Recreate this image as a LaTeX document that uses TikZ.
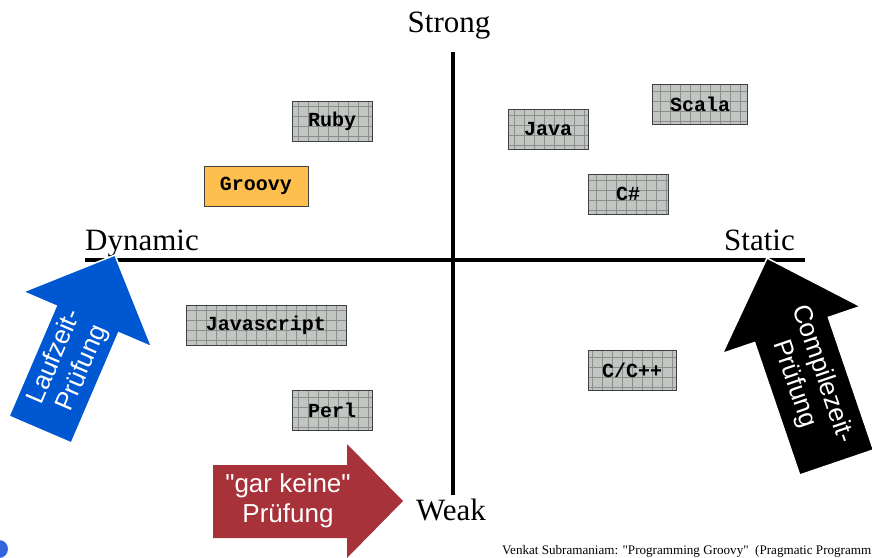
\documentclass[tikz,border=0pt]{standalone}
\usepackage{fontspec}
\setmainfont{Liberation Serif}
\newfontfamily\sansfam{Liberation Sans}
\newfontfamily\monofam{Liberation Mono}
\usetikzlibrary{positioning}
\definecolor{sky}{HTML}{0057D2}
\definecolor{rust}{HTML}{A8323A}
\definecolor{amber}{HTML}{FFBF4F}
\definecolor{tile}{HTML}{C2C6C2}
\definecolor{tileline}{HTML}{8C8E8C}
\definecolor{dot}{HTML}{3366DD}
\tikzset{
  every node/.style={inner sep=0pt},
  axis/.style={line width=4pt,black},
  axlabel/.style={font=\fontsize{31}{34}\selectfont},
  lang/.style={draw=black!75,line width=0.8pt,fill=tile,minimum height=40pt,
    font=\monofam\bfseries\fontsize{20}{22}\selectfont,
    path picture={\draw[tileline,line width=0.6pt]
      ([shift={(-10pt,-10pt)}]path picture bounding box.south west) grid[step=10pt]
      (path picture bounding box.north east);}},
  hint/.style={text=white,align=center,font=\sansfam\fontsize{26}{30}\selectfont},
  pfeil/.style={draw=white,line width=1.5pt},
}
\begin{document}
\begin{tikzpicture}[x=1pt,y=-1pt]
  \useasboundingbox (0,0) rectangle (872,557);
  \clip (0,0) rectangle (872,557);
  % axes
  \coordinate (top) at (453,52);
  \coordinate (bottom) at (453,495);
  \coordinate (left) at (85,260);
  \coordinate (right) at (805,260);
  \draw[axis] (top) -- (bottom);
  \draw[axis] (left) -- (right);
  \node[axlabel,anchor=base] (strong) at (449,32) {Strong};
  \node[axlabel,anchor=base west] (dynamic) at (85,250) {Dynamic};
  \node[axlabel,anchor=base east] (static) at (795,250) {Static};
  \node[axlabel,anchor=base] (weak) at (451,520) {Weak};
  % languages
  \node[lang,minimum width=80pt] (ruby) at (332,121) {Ruby};
  \node[lang,fill=amber,path picture={},minimum width=104pt] (groovy) at (256,186) {Groovy};
  \node[lang,minimum width=80pt] (java) at (548,129) {Java};
  \node[lang,minimum width=95pt] (scala) at (700,104) {Scala};
  \node[lang,minimum width=80pt] (csharp) at (628,194) {C\#};
  \node[lang,minimum width=160pt] (js) at (266,325) {Javascript};
  \node[lang,minimum width=80pt] (perl) at (332,410) {Perl};
  \node[lang,minimum width=88pt] (cpp) at (632,370) {C/C++};
  % blue arrow
  \begin{scope}[shift={(115,255)},rotate=66.8]
    \fill[sky,pfeil] (0,0) -- (-70,70) -- (-70,34) -- (-190,34) -- (-190,-34)
      -- (-70,-34) -- (-70,-70) -- cycle;
    \node[hint,rotate=66.8] (lauf) at (-117,0) {Laufzeit-\\Prüfung};
  \end{scope}
  % black arrow
  \begin{scope}[shift={(767,258)},rotate=108.8]
    \fill[black,pfeil] (0,0) -- (-76,73) -- (-76,39) -- (-216,39) -- (-216,-39)
      -- (-76,-39) -- (-76,-73) -- cycle;
    \node[hint,rotate=-71.2] (comp) at (-128,0) {Compilezeit-\\Prüfung};
  \end{scope}
  % red arrow
  \fill[rust] (213,465) -- (347,465) -- (347,444) -- (403,501) -- (347,558)
    -- (347,538) -- (213,538) -- cycle;
  \node[hint] (keine) at (288,501) {\textquotedbl gar keine\textquotedbl\\Prüfung};
  % source
  \fill[dot] (-1,549) circle (9);
  \node[anchor=base west,font=\fontsize{13.1}{15}\selectfont] (src) at (502,554)
    {Venkat Subramaniam: \textquotedbl Programming Groovy\textquotedbl\ \ (Pragmatic Programm};
\end{tikzpicture}
\end{document}
